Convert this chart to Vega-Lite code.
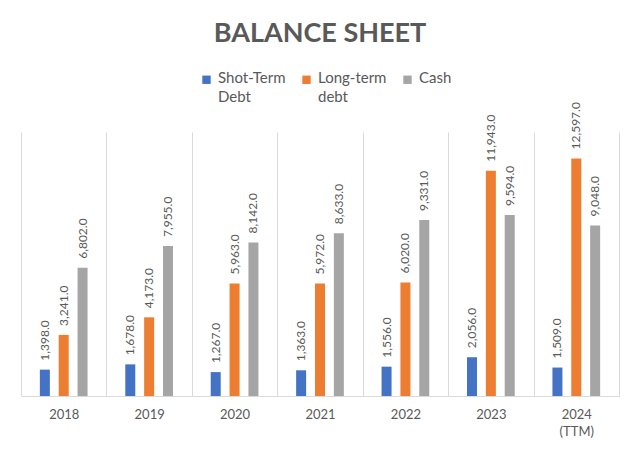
{
  "$schema": "https://vega.github.io/schema/vega-lite/v6.json",
  "width": 598,
  "height": 264,
  "autosize": {"type": "none"},
  "padding": {"left": 21, "top": 132, "right": 21, "bottom": 57},
  "background": "white",
  "config": {"view": {"stroke": null}},
  "title": {"text": "BALANCE SHEET", "fontSize": 27, "font": "Lato", "fontWeight": "bold", "color": "#595959", "anchor": "middle", "offset": 24},
  "data": {"values": [
    {"year": "2018", "series": "Shot-Term Debt", "value": 1398},
    {"year": "2018", "series": "Long-term debt", "value": 3241},
    {"year": "2018", "series": "Cash", "value": 6802},
    {"year": "2019", "series": "Shot-Term Debt", "value": 1678},
    {"year": "2019", "series": "Long-term debt", "value": 4173},
    {"year": "2019", "series": "Cash", "value": 7955},
    {"year": "2020", "series": "Shot-Term Debt", "value": 1267},
    {"year": "2020", "series": "Long-term debt", "value": 5963},
    {"year": "2020", "series": "Cash", "value": 8142},
    {"year": "2021", "series": "Shot-Term Debt", "value": 1363},
    {"year": "2021", "series": "Long-term debt", "value": 5972},
    {"year": "2021", "series": "Cash", "value": 8633},
    {"year": "2022", "series": "Shot-Term Debt", "value": 1556},
    {"year": "2022", "series": "Long-term debt", "value": 6020},
    {"year": "2022", "series": "Cash", "value": 9331},
    {"year": "2023", "series": "Shot-Term Debt", "value": 2056},
    {"year": "2023", "series": "Long-term debt", "value": 11943},
    {"year": "2023", "series": "Cash", "value": 9594},
    {"year": "2024 (TTM)", "series": "Shot-Term Debt", "value": 1509},
    {"year": "2024 (TTM)", "series": "Long-term debt", "value": 12597},
    {"year": "2024 (TTM)", "series": "Cash", "value": 9048}
  ]},
  "encoding": {
    "x": {
      "field": "year", "type": "nominal", "sort": null,
      "scale": {"paddingInner": 0, "paddingOuter": 0},
      "axis": {
        "title": null, "labelAngle": 0, "ticks": false, "domainColor": "#d9d9d9",
        "grid": true, "gridColor": "#d9d9d9", "tickBand": "extent",
        "labelPadding": 12, "labelFontSize": 13, "labelColor": "#595959", "labelFont": "Lato",
        "labelLineHeight": 17,
        "labelExpr": "datum.value == '2024 (TTM)' ? ['2024', '(TTM)'] : datum.value"
      }
    },
    "xOffset": {
      "field": "series", "type": "nominal",
      "sort": ["Shot-Term Debt", "Long-term debt", "Cash"],
      "scale": {"paddingInner": 0.47, "paddingOuter": 1.1}
    },
    "y": {"field": "value", "type": "quantitative", "scale": {"domain": [0, 14000]}, "axis": null}
  },
  "layer": [
    {
      "mark": {"type": "bar"},
      "encoding": {
        "color": {
          "field": "series", "type": "nominal",
          "scale": {"domain": ["Shot-Term Debt", "Long-term debt", "Cash"], "range": ["#4472C4", "#ED7D31", "#A5A5A5"]},
          "legend": {
            "orient": "none", "legendX": 178, "legendY": -60, "direction": "horizontal",
            "title": null, "symbolType": "square", "symbolSize": 70, "symbolStrokeWidth": 0,
            "labelFontSize": 15, "labelColor": "#595959", "labelFont": "Lato", "labelOffset": 4,
            "columnPadding": 13, "labelBaseline": "top", "labelLimit": 200,
            "labelExpr": "datum.label == 'Shot-Term Debt' ? ['Shot-Term', 'Debt'] : datum.label == 'Long-term debt' ? ['Long-term', 'debt'] : ['Cash', ' ']",
            "encode": {"labels": {"update": {"dy": {"value": -9}, "lineHeight": {"value": 19}}}}
          }
        }
      }
    },
    {
      "mark": {"type": "text", "angle": 270, "align": "left", "baseline": "middle", "dx": 9, "fontSize": 12, "font": "Lato", "color": "#595959"},
      "encoding": {
        "text": {"field": "value", "type": "quantitative", "format": ",.1f"}
      }
    }
  ]
}
